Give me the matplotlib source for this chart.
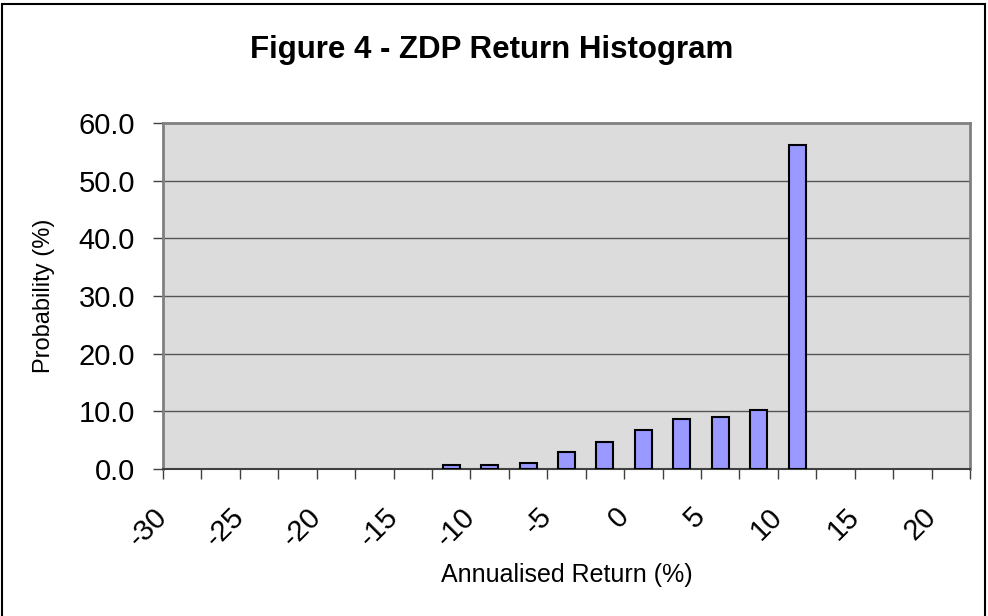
import matplotlib
matplotlib.use("Agg")
import matplotlib.pyplot as plt
from matplotlib.patches import Rectangle

# --- data ---
bin_edges = [-30 + 2.5 * i for i in range(22)]          # -30 .. 22.5
probability = [0.0, 0.0, 0.0, 0.0, 0.0, 0.0, 0.0,
               0.7, 0.7, 1.1, 3.0, 4.6, 6.8, 8.7, 9.1, 10.3, 56.2,
               0.0, 0.0, 0.0, 0.0]
xtick_labels = [-30, -25, -20, -15, -10, -5, 0, 5, 10, 15, 20]
yticks = [0, 10, 20, 30, 40, 50, 60]
title = "Figure 4 - ZDP Return Histogram"

plt.rcParams["font.family"] = ["Liberation Sans", "DejaVu Sans"]

fig = plt.figure(figsize=(9.88, 6.16), dpi=100)
ax = fig.add_axes([163 / 988, 1 - 469 / 616, (970 - 163) / 988, (469 - 123) / 616])

centers = [(bin_edges[i] + bin_edges[i + 1]) / 2 for i in range(len(probability))]
# empty bins are not drawn (no outline on zero-height bars)
shown = [(c, p) for c, p in zip(centers, probability) if p > 0]
ax.set_facecolor("#dcdcdc")
ax.bar([c for c, _ in shown], [p for _, p in shown], width=2.5 * 0.44,
       color="#9999ff", edgecolor="black", linewidth=1.5, zorder=3)

ax.set_xlim(bin_edges[0], bin_edges[-1])
ax.set_ylim(0, 60)
ax.set_yticks(yticks)
ax.set_yticklabels([f"{v:.1f}" for v in yticks], fontsize=21)
ax.set_xticks(bin_edges, minor=True)
ax.set_xticks(xtick_labels)
ax.set_xticklabels([str(v) for v in xtick_labels], rotation=45,
                   ha="right", va="center", rotation_mode="anchor", fontsize=21)
ax.tick_params(axis="x", which="both", direction="out", length=7.2, width=1,
               color="#404040", pad=24)
ax.tick_params(axis="y", direction="out", length=7.2, width=1, color="#404040", pad=13)

for v in yticks[1:-1]:
    ax.axhline(v, color="#555555", linewidth=1, zorder=1)

for side in ["top", "right", "left"]:
    ax.spines[side].set_color("#808080")
    ax.spines[side].set_linewidth(2)
ax.spines["bottom"].set_color("#404040")
ax.spines["bottom"].set_linewidth(1.5)

ax.set_xlabel("Annualised Return (%)", fontsize=18)
ax.set_ylabel("Probability (%)", fontsize=17)
ax.xaxis.set_label_coords(0.5, (469 - 563) / 346)
ax.yaxis.set_label_coords((55 - 163) / 807, 0.5)
fig.text(492 / 988, 1 - 50 / 616, title, fontsize=22.5, fontweight="bold",
         ha="center", va="center")

# outer chart frame
fig.patches.append(Rectangle((1.5 / 988, -0.05), (985 - 1.5) / 988, 1.05 - 4 / 616,
                             transform=fig.transFigure, fill=False,
                             edgecolor="black", linewidth=1.5))

fig.savefig("out.png", dpi=100)
